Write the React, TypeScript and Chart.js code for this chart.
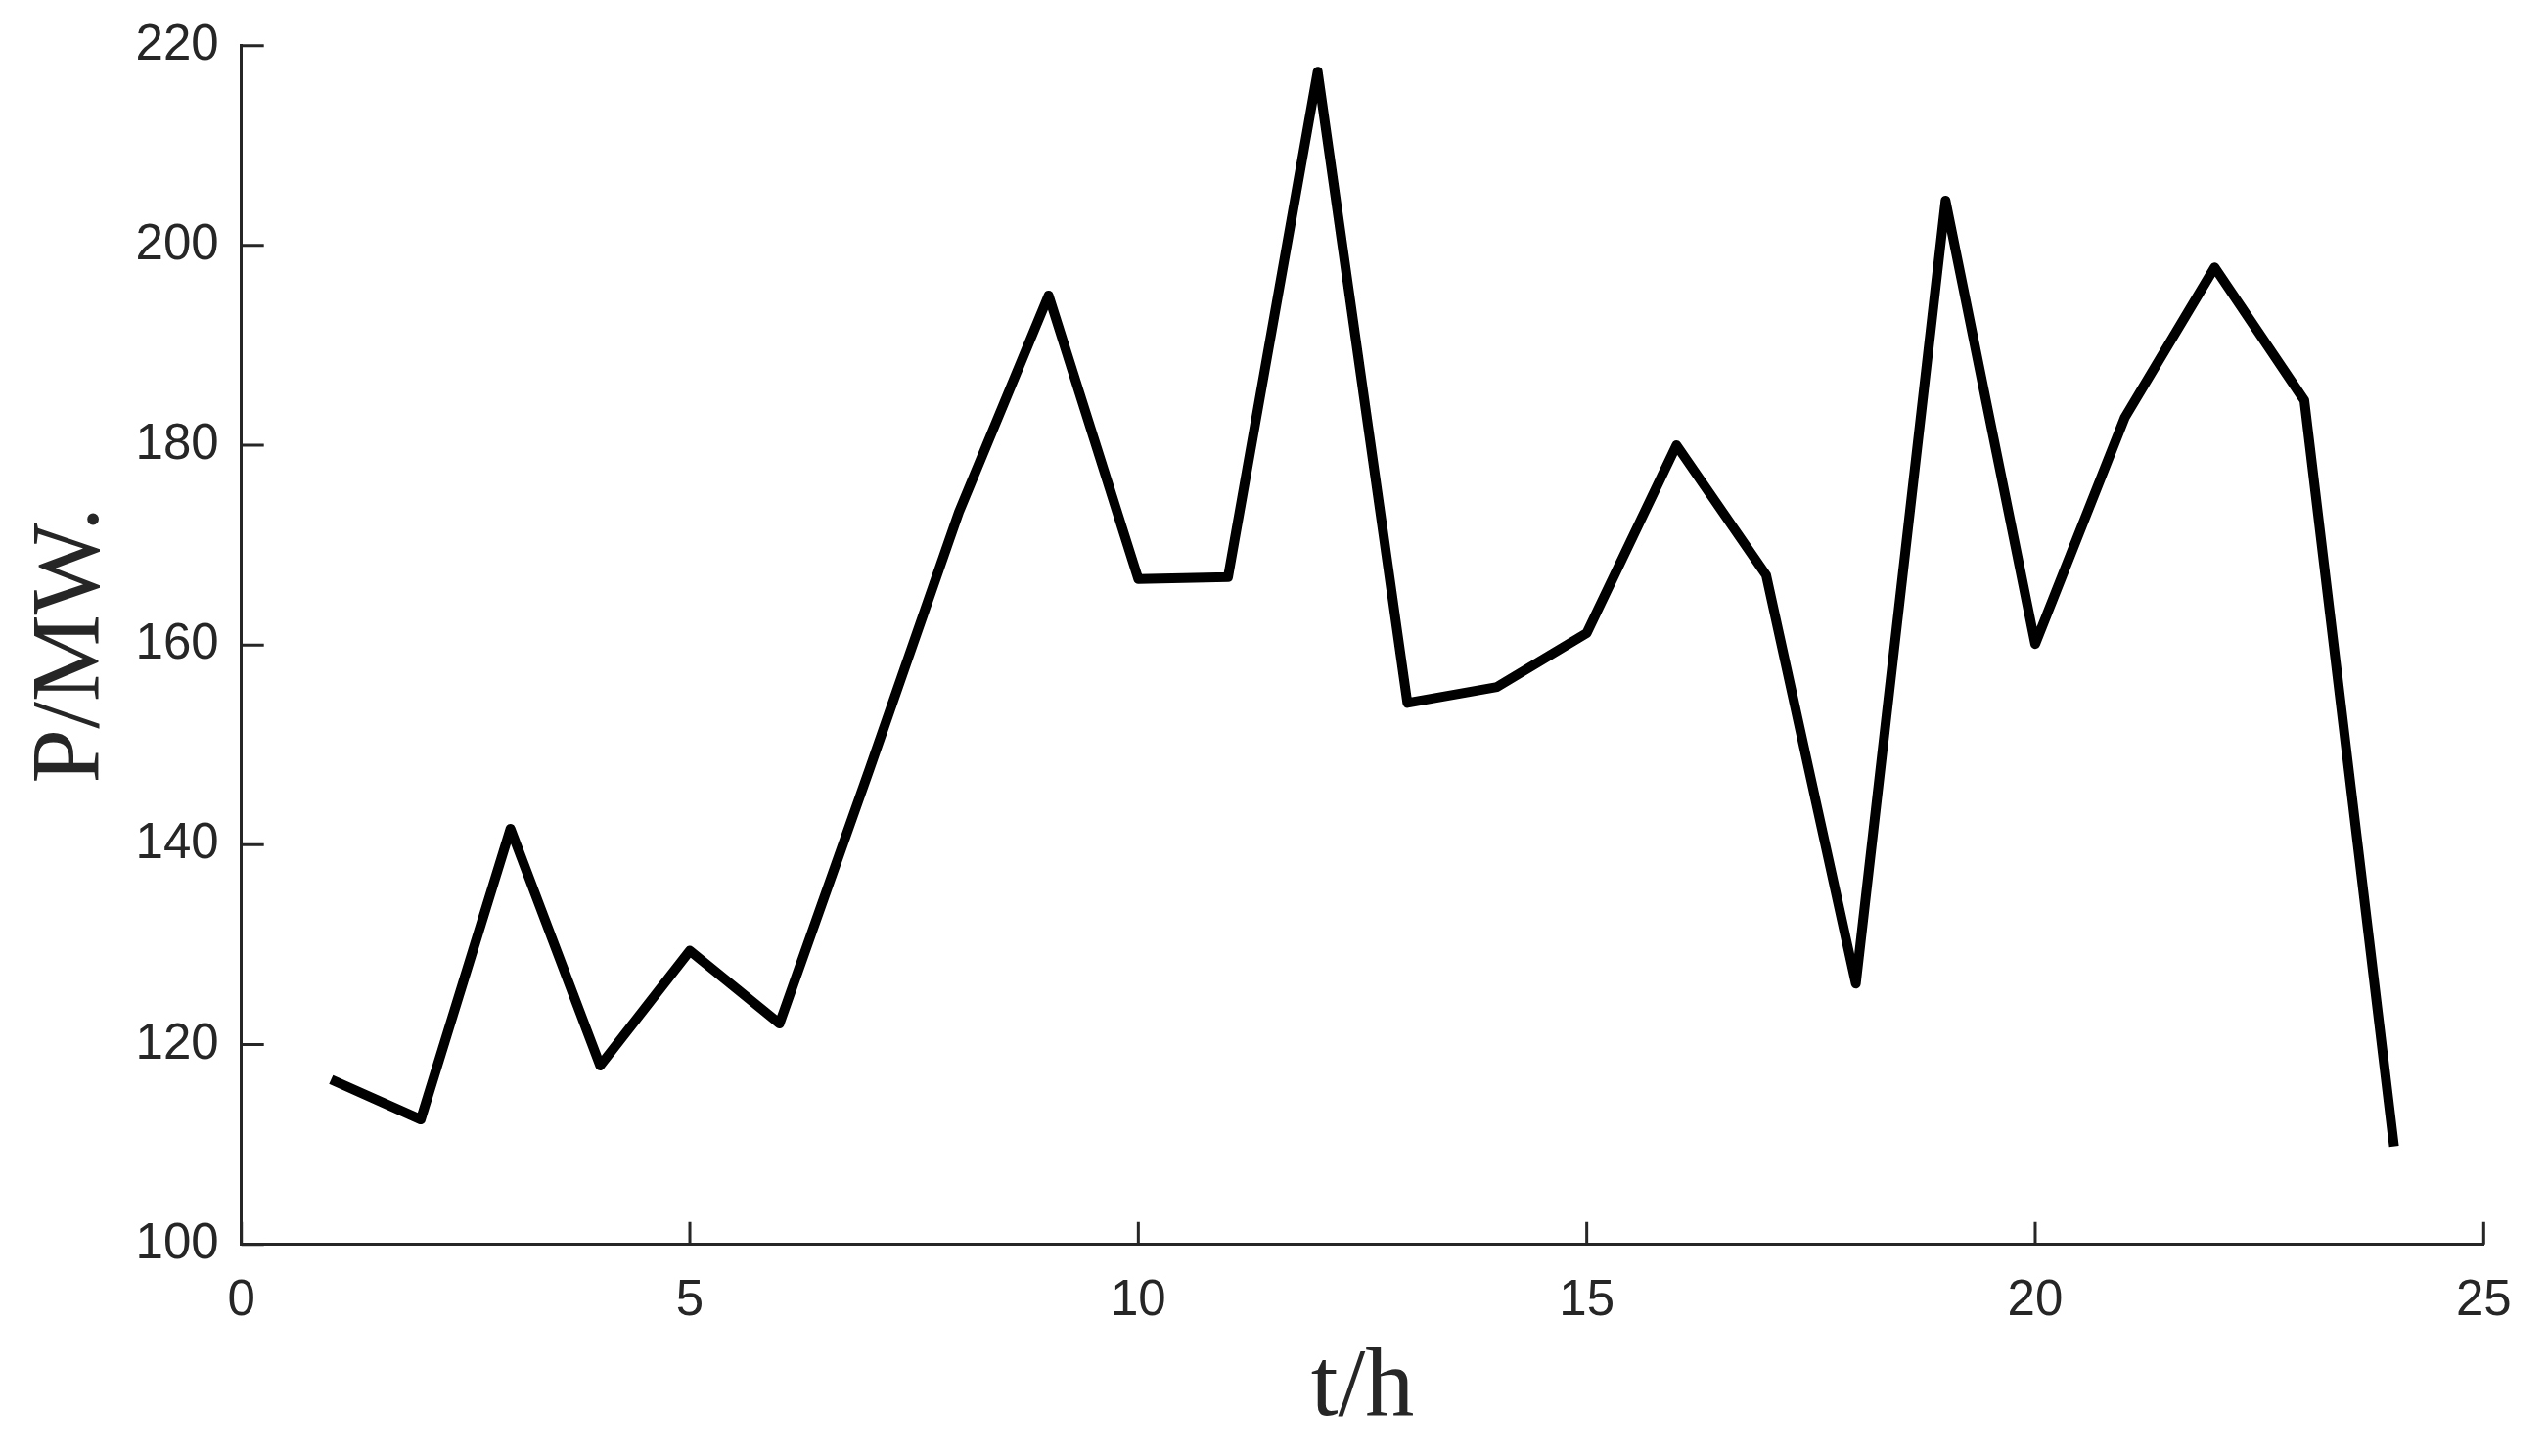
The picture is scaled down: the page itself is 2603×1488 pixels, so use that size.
import React, { useEffect, useRef } from "react";
import { Chart, registerables } from "chart.js";

Chart.register(...registerables);

const hours = [1, 2, 3, 4, 5, 6, 7, 8, 9, 10, 11, 12, 13, 14, 15, 16, 17, 18, 19, 20, 21, 22, 23, 24];
const power = [116.5, 112.5, 141.6, 117.9, 129.4, 122.1, 147.5, 173.3, 195.0, 166.6, 166.8, 217.4, 154.2, 155.8, 161.2, 180.0, 167.0, 126.1, 204.5, 160.1, 182.8, 197.8, 184.5, 109.8];
const xTicks = [0, 5, 10, 15, 20, 25];
const yTicks = [100, 120, 140, 160, 180, 200, 220];
const xTitle = "t/h";
const yTitle = "P/MW.";

const AXIS_COLOR = "#262626";
const TICK_FONT = "'Liberation Sans', Arial, Helvetica, sans-serif";
const TITLE_FONT = "'Liberation Serif', 'Times New Roman', Times, serif";

const inwardTicks = {
  id: "inwardTicks",
  afterDraw(chart: any) {
    const { ctx, chartArea, scales } = chart;
    const len = 23;
    ctx.save();
    ctx.strokeStyle = AXIS_COLOR;
    ctx.lineWidth = 3;
    ctx.beginPath();
    xTicks.forEach((v) => {
      const px = scales.x.getPixelForValue(v);
      ctx.moveTo(px, chartArea.bottom);
      ctx.lineTo(px, chartArea.bottom - len);
    });
    yTicks.forEach((v) => {
      const py = scales.y.getPixelForValue(v);
      ctx.moveTo(chartArea.left, py);
      ctx.lineTo(chartArea.left + len, py);
    });
    ctx.stroke();
    ctx.restore();
  },
};

export default function App() {
  const ref = useRef<HTMLCanvasElement | null>(null);

  useEffect(() => {
    document.body.style.margin = "0";
    const canvas = ref.current;
    if (!canvas) return;
    const chart = new Chart(canvas, {
      type: "line",
      data: {
        datasets: [
          {
            data: hours.map((h, i) => ({ x: h, y: power[i] })),
            borderColor: "#000000",
            borderWidth: 10,
            borderJoinStyle: "round",
            borderCapStyle: "butt",
            pointRadius: 0,
            fill: false,
            tension: 0,
          },
        ],
      },
      options: {
        animation: false,
        responsive: false,
        devicePixelRatio: 1,
        layout: { padding: { top: 46.7, right: 64.7, left: 0, bottom: 0 } },
        plugins: { legend: { display: false }, tooltip: { enabled: false } },
        scales: {
          x: {
            type: "linear",
            min: 0,
            max: 25,
            afterBuildTicks: (s: any) => {
              s.ticks = xTicks.map((v) => ({ value: v }));
            },
            afterFit: (s: any) => {
              s.height = 216.3;
              s.paddingLeft = 0;
              s.paddingRight = 0;
            },
            grid: { display: true, drawOnChartArea: false, drawTicks: false },
            border: { display: true, color: AXIS_COLOR, width: 3 },
            ticks: {
              color: AXIS_COLOR,
              font: { family: TICK_FONT, size: 51 },
              padding: 28,
              maxRotation: 0,
              autoSkip: false,
            },
            title: {
              display: true,
              text: xTitle,
              color: AXIS_COLOR,
              font: { family: TITLE_FONT, size: 100 },
              padding: { top: 0, bottom: 8 },
            },
          },
          y: {
            type: "linear",
            min: 100,
            max: 220,
            afterBuildTicks: (s: any) => {
              s.ticks = yTicks.map((v) => ({ value: v }));
            },
            afterFit: (s: any) => {
              s.width = 246.7;
              s.paddingTop = 0;
              s.paddingBottom = 0;
            },
            grid: { display: true, drawOnChartArea: false, drawTicks: false },
            border: { display: true, color: AXIS_COLOR, width: 3 },
            ticks: {
              color: AXIS_COLOR,
              font: { family: TICK_FONT, size: 51 },
              padding: 23,
              autoSkip: false,
            },
            title: {
              display: true,
              text: yTitle,
              color: AXIS_COLOR,
              font: { family: TITLE_FONT, size: 100 },
              padding: { top: 14, bottom: 0 },
            },
          },
        },
      },
      plugins: [inwardTicks],
    });
    return () => chart.destroy();
  }, []);

  return (
    <div style={{ position: "absolute", left: 0, top: 0, width: 2603, height: 1488, background: "#ffffff" }}>
      <canvas ref={ref} width={2603} height={1488} style={{ display: "block", width: 2603, height: 1488 }} />
    </div>
  );
}
